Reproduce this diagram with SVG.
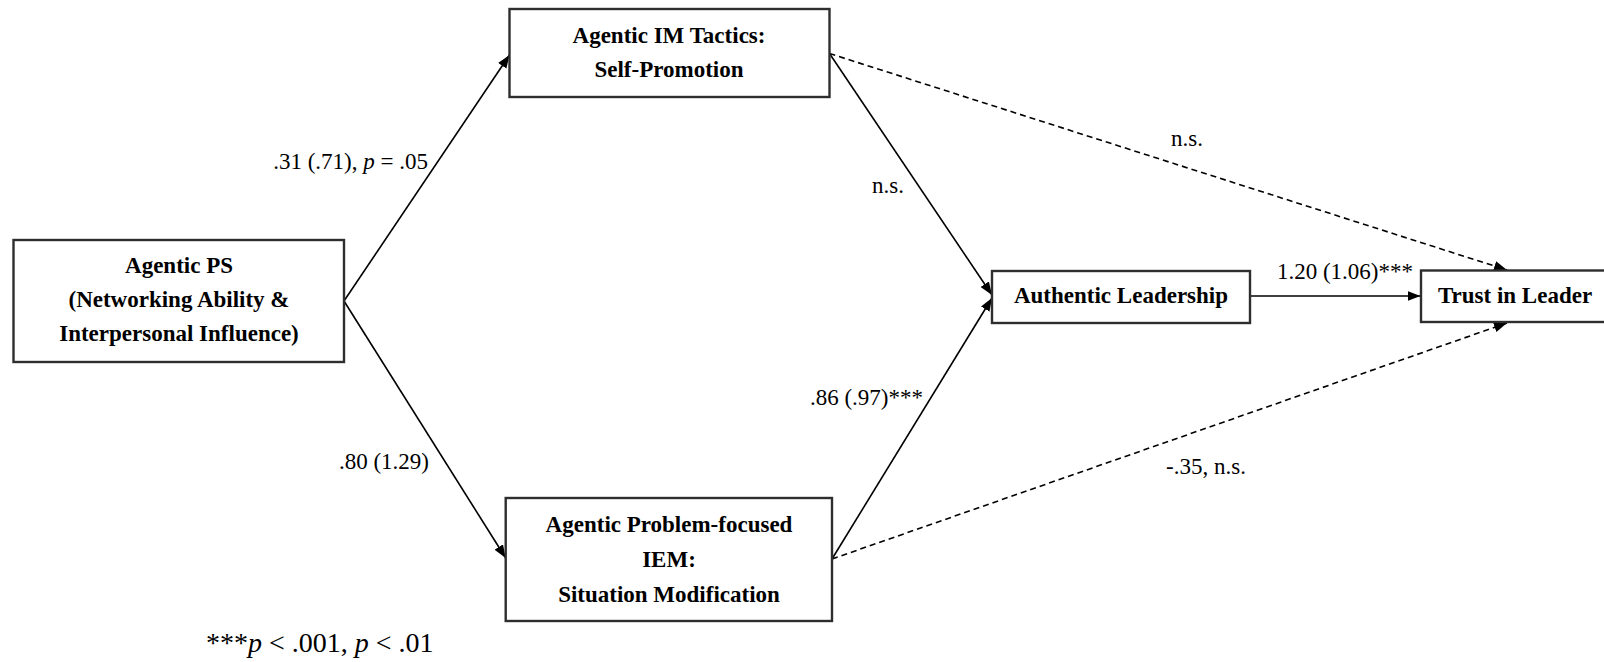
<svg xmlns="http://www.w3.org/2000/svg" width="1604" height="662" viewBox="0 0 1604 662">
<style>
.box{fill:#fff;stroke:#2e2e2e;stroke-width:2.4}
.nt{font-family:"Liberation Serif","Times New Roman",serif;font-weight:bold;font-size:23px;fill:#000;text-anchor:middle}
.lb{font-family:"Liberation Serif","Times New Roman",serif;font-size:23px;fill:#000}
.fn{font-family:"Liberation Serif","Times New Roman",serif;font-size:28px;fill:#000}
.ln{fill:none;stroke:#000;stroke-width:1.6}
.dash{stroke-dasharray:6 4}
</style>
<defs>
<marker id="ah" markerUnits="userSpaceOnUse" markerWidth="14" markerHeight="11" refX="13" refY="5" orient="auto">
<path d="M0,0 L13,5 L0,10 z" fill="#000"/>
</marker>
</defs>
<rect width="1604" height="662" fill="#fff"/>
<g id="connectors">
<line class="ln" x1="344" y1="301" x2="509.5" y2="55" marker-end="url(#ah)"/>
<line class="ln" x1="344" y1="301" x2="505.7" y2="558" marker-end="url(#ah)"/>
<line class="ln" x1="829.5" y1="53.5" x2="992" y2="295" marker-end="url(#ah)"/>
<line class="ln" x1="832" y1="559" x2="992" y2="298" marker-end="url(#ah)"/>
<line class="ln dash" x1="829.5" y1="53.5" x2="1507" y2="270" marker-end="url(#ah)"/>
<line class="ln dash" x1="832" y1="559" x2="1507" y2="323" marker-end="url(#ah)"/>
<line class="ln" x1="1250" y1="296" x2="1420.5" y2="296" marker-end="url(#ah)"/>
<text class="lb" x="428" y="169" text-anchor="end">.31 (.71), <tspan font-style="italic">p</tspan> = .05</text>
<text class="lb" x="429" y="469" text-anchor="end">.80 (1.29)</text>
<text class="lb" x="888" y="193" text-anchor="middle">n.s.</text>
<text class="lb" x="1187" y="146" text-anchor="middle">n.s.</text>
<text class="lb" x="1345" y="279" text-anchor="middle">1.20 (1.06)***</text>
<text class="lb" x="923" y="405" text-anchor="end">.86 (.97)***</text>
<text class="lb" x="1206" y="474" text-anchor="middle">-.35, n.s.</text>
</g>
<g id="agentic-ps">
<rect class="box" x="13.5" y="240" width="330.5" height="122"/>
<text class="nt" x="179" y="273">Agentic PS</text>
<text class="nt" x="179" y="307">(Networking Ability &amp;</text>
<text class="nt" x="179" y="341">Interpersonal Influence)</text>
</g>
<g id="self-promotion">
<rect class="box" x="509.5" y="9" width="320" height="88"/>
<text class="nt" x="669" y="43">Agentic IM Tactics:</text>
<text class="nt" x="669" y="77">Self-Promotion</text>
</g>
<g id="situation-modification">
<rect class="box" x="505.7" y="498" width="326.3" height="123"/>
<text class="nt" x="669" y="532">Agentic Problem-focused</text>
<text class="nt" x="669" y="567">IEM:</text>
<text class="nt" x="669" y="602">Situation Modification</text>
</g>
<g id="authentic-leadership">
<rect class="box" x="992" y="271" width="258" height="52"/>
<text class="nt" x="1121" y="303">Authentic Leadership</text>
</g>
<g id="trust-in-leader">
<rect class="box" x="1421" y="270.5" width="200" height="51.5"/>
<text class="nt" x="1515" y="303">Trust in Leader</text>
</g>
<g id="footnote">
<text class="fn" x="206" y="652">***<tspan font-style="italic">p</tspan> &lt; .001, <tspan font-style="italic">p</tspan> &lt; .01</text>
</g>
</svg>
